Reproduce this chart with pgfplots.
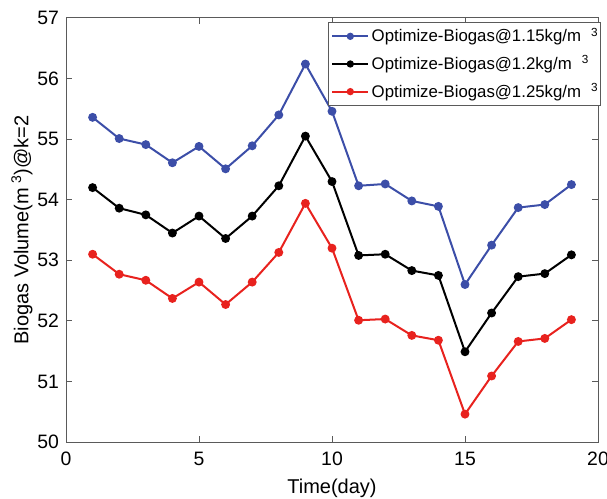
\documentclass[border=0pt]{standalone}
\usepackage{pgfplots}
\pgfplotsset{compat=1.18}
\usetikzlibrary{calc}
\usepackage{fontspec}
\setmainfont{Liberation Sans}
\definecolor{cblue}{RGB}{60,78,168}
\definecolor{cred}{RGB}{232,34,30}
\definecolor{axgray}{RGB}{90,90,90}
\newcommand{\supthree}{\hspace{5pt}\makebox[2pt][l]{\textsuperscript{3}}}
\begin{document}
\begin{tikzpicture}
\begin{axis}[name=ax, scale only axis, width=266pt, height=212pt,
  xmin=0, xmax=20, ymin=50, ymax=57,
  xtick={0,5,10,15,20}, ytick={50,51,52,53,54,55,56,57},
  tick align=inside, tick pos=both, major tick length=3pt,
  axis line style={axgray, line width=0.5pt},
  every tick/.style={axgray, line width=0.5pt},
  tick label style={font=\fontsize{9.7}{11}\selectfont},
  xticklabel style={yshift=-1.5pt},
  /pgf/number format/assume math mode=true,
  xlabel={Time(day)},
  ylabel={Biogas Volume(m\hspace{2pt}\textsuperscript{3})@k=2},
  label style={font=\fontsize{9.5}{11}\selectfont},
  every axis x label/.style={at={(axis description cs:0.5,-0.11)}, anchor=center},
  every axis y label/.style={at={(axis description cs:-0.083,0.5)}, rotate=90, anchor=center},
  legend style={at={(1,1)}, anchor=north east, xshift=1.5pt, yshift=-2pt,
    font=\fontsize{8.4}{10}\selectfont, draw=axgray, line width=0.5pt, row sep=3pt, inner sep=1.5pt,
    nodes={inner sep=1.2pt}},
  legend cell align=left,
  legend image code/.code={\draw[mark repeat=2, mark phase=2, mark size=1.3pt] plot coordinates {(0pt,0pt) (9pt,0pt) (18pt,0pt)};},
  every axis plot/.append style={line width=1pt, mark=*, mark size=1.7pt},
]
\addplot[color=cblue, mark options={fill=cblue}] coordinates {
(1,55.36) (2,55.01) (3,54.91) (4,54.61) (5,54.88) (6,54.51) (7,54.89) (8,55.40) (9,56.24) (10,55.46)
(11,54.23) (12,54.26) (13,53.98) (14,53.89) (15,52.60) (16,53.25) (17,53.87) (18,53.92) (19,54.25)};
\addlegendentry{Optimize-Biogas@1.15kg/m\supthree}
\addplot[color=black, mark options={fill=black}] coordinates {
(1,54.20) (2,53.86) (3,53.75) (4,53.45) (5,53.73) (6,53.36) (7,53.73) (8,54.23) (9,55.05) (10,54.30)
(11,53.08) (12,53.10) (13,52.83) (14,52.75) (15,51.49) (16,52.13) (17,52.73) (18,52.78) (19,53.09)};
\addlegendentry{Optimize-Biogas@1.2kg/m\supthree}
\addplot[color=cred, mark options={fill=cred}] coordinates {
(1,53.10) (2,52.77) (3,52.67) (4,52.37) (5,52.64) (6,52.27) (7,52.64) (8,53.13) (9,53.94) (10,53.20)
(11,52.01) (12,52.03) (13,51.76) (14,51.68) (15,50.46) (16,51.09) (17,51.66) (18,51.71) (19,52.02)};
\addlegendentry{Optimize-Biogas@1.25kg/m\supthree}
\end{axis}
\pgfresetboundingbox
\path ($(ax.south west)+(-33pt,-28pt)$) rectangle ($(ax.north east)+(4.5pt,9pt)$);
\end{tikzpicture}
\end{document}
